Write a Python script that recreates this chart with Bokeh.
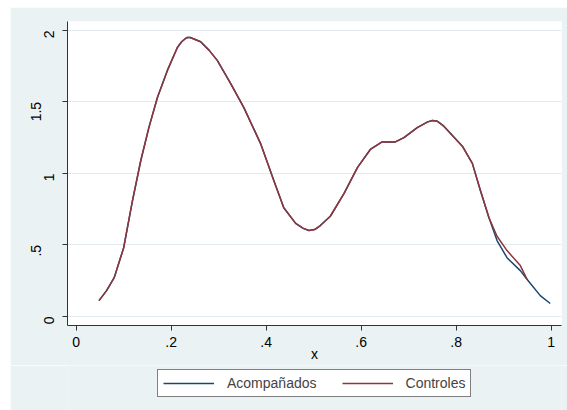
import math
from bokeh.plotting import figure
from bokeh.layouts import column
from bokeh.models import Range1d, FixedTicker, Legend, LegendItem, LinearAxis
from bokeh.embed import file_html
from bokeh.resources import INLINE

# ---- data ----
x_common = [0.048, 0.064, 0.080, 0.100, 0.118, 0.136, 0.153, 0.171, 0.192, 0.213,
            0.222, 0.229, 0.234, 0.240, 0.248, 0.262, 0.280, 0.297, 0.325, 0.353,
            0.388, 0.416, 0.437, 0.462, 0.478, 0.490, 0.502, 0.514, 0.535, 0.564,
            0.592, 0.620, 0.644, 0.672, 0.690, 0.718, 0.740, 0.750, 0.760, 0.774,
            0.813, 0.834, 0.851, 0.869]
y_common = [0.11, 0.18, 0.27, 0.48, 0.80, 1.09, 1.32, 1.53, 1.72, 1.88,
            1.92, 1.94, 1.95, 1.95, 1.94, 1.92, 1.86, 1.79, 1.63, 1.46,
            1.21, 0.95, 0.76, 0.65, 0.615, 0.60, 0.607, 0.635, 0.70, 0.86,
            1.04, 1.17, 1.22, 1.22, 1.25, 1.32, 1.36, 1.37, 1.365, 1.33,
            1.19, 1.07, 0.88, 0.69]

x_acomp_tail = [0.886, 0.907, 0.935, 0.949, 0.977, 0.998]
y_acomp_tail = [0.53, 0.41, 0.32, 0.26, 0.145, 0.09]

x_contr_tail = [0.886, 0.907, 0.935, 0.949]
y_contr_tail = [0.56, 0.46, 0.355, 0.26]

x_acomp = x_common + x_acomp_tail
y_acomp = y_common + y_acomp_tail
x_contr = x_common + x_contr_tail
y_contr = y_common + y_contr_tail

series_names = ["Acompañados", "Controles"]
x_ticks = [0, 0.2, 0.4, 0.6, 0.8, 1]
x_tick_labels = ["0", ".2", ".4", ".6", ".8", "1"]
y_ticks = [0, 0.5, 1, 1.5, 2]
y_tick_labels = ["0", ".5", "1", "1.5", "2"]
x_title = "x"

# ---- styles ----
BG = "#eaf2f3"
NAVY = "#1a476f"
MAROON = "#90353b"
FONT = "Liberation Sans"

p = figure(width=557, height=358, output_backend="svg", toolbar_location=None,
           x_range=Range1d(-0.0183, 1.0217), y_range=Range1d(-0.064, 2.062))
p.margin = (7, 0, 0, 10)
p.min_border_left = 57
p.min_border_right = 6
p.min_border_top = 14
p.min_border_bottom = 40
p.border_fill_color = BG
p.background_fill_color = "white"
p.outline_line_color = None

l1 = p.line(x_acomp, y_acomp, line_color=NAVY, line_width=1.5, line_join="round")
l2 = p.line(x_contr, y_contr, line_color=MAROON, line_width=1.5, line_join="round")

p.xgrid.visible = False
p.ygrid.grid_line_color = "#e1eaec"
p.ygrid.grid_line_width = 1

# whole-number labels sit next to the axis, fractional ones a bit further out
int_labels = {t: (l if float(t).is_integer() else "") for t, l in zip(y_ticks, y_tick_labels)}
frac_ticks = [t for t in y_ticks if not float(t).is_integer()]
frac_labels = {t: l for t, l in zip(y_ticks, y_tick_labels) if not float(t).is_integer()}

p.xaxis.ticker = FixedTicker(ticks=x_ticks)
p.xaxis.major_label_overrides = {t: l for t, l in zip(x_ticks, x_tick_labels)}
p.yaxis.ticker = FixedTicker(ticks=y_ticks)
p.yaxis.major_label_overrides = int_labels
p.yaxis.major_label_orientation = math.pi / 2

for ax in (p.xaxis[0], p.yaxis[0]):
    ax.axis_line_color = "#333333"
    ax.axis_line_width = 1
    ax.major_tick_line_color = "#333333"
    ax.major_tick_out = 5
    ax.major_tick_in = 0
    ax.minor_tick_line_color = None
    ax.major_label_text_font = FONT
    ax.major_label_text_font_size = "14px"
    ax.major_label_text_color = "black"
p.yaxis.major_label_standoff = 13
p.xaxis.major_label_standoff = 6

yfrac = LinearAxis(ticker=FixedTicker(ticks=frac_ticks), major_label_overrides=frac_labels)
yfrac.axis_line_color = None
yfrac.major_tick_line_color = None
yfrac.minor_tick_line_color = None
yfrac.major_tick_out = 0
yfrac.major_tick_in = 0
yfrac.major_label_standoff = 0
yfrac.major_label_orientation = math.pi / 2
yfrac.major_label_text_font = FONT
yfrac.major_label_text_font_size = "14px"
yfrac.major_label_text_color = "black"
p.add_layout(yfrac, "left")

p.xaxis.axis_label = x_title
p.xaxis.axis_label_text_font = FONT
p.xaxis.axis_label_text_font_size = "14px"
p.xaxis.axis_label_text_font_style = "normal"
p.xaxis.axis_label_text_color = "black"
p.xaxis.axis_label_standoff = -4

# ---- legend strip under the plot (its frame is aligned with the plot's frame) ----
p2 = figure(width=557, height=45, output_backend="svg", toolbar_location=None,
            x_axis_type=None, y_axis_type=None,
            x_range=Range1d(-0.0183, 1.0217), y_range=Range1d(10, 11))
p2.margin = (0, 0, 0, 10)
p2.min_border_left = 57
p2.min_border_right = 6
p2.min_border_top = 0
p2.min_border_bottom = 0
p2.border_fill_color = BG
p2.background_fill_color = BG
p2.outline_line_color = None
p2.grid.visible = False

# same series, drawn outside this strip's visible range: they only feed the legend keys
k1 = p2.line(x_acomp, y_acomp, line_color=NAVY, line_width=1.5)
k2 = p2.line(x_contr, y_contr, line_color=MAROON, line_width=1.5)

legend = Legend(items=[LegendItem(label=series_names[0], renderers=[k1]),
                       LegendItem(label=series_names[1], renderers=[k2])],
                orientation="horizontal", location=(90, 13))
legend.margin = 0
legend.padding = 5
legend.spacing = 25
legend.glyph_width = 51
legend.glyph_height = 16
legend.label_height = 16
legend.label_standoff = 13
legend.label_text_font = FONT
legend.label_text_font_size = "14px"
legend.border_line_color = "black"
legend.border_line_width = 1
legend.background_fill_color = "white"
legend.background_fill_alpha = 1
p2.add_layout(legend, "center")

layout = column(p, p2, spacing=0)
open("out.html", "w").write(file_html(layout, INLINE))
